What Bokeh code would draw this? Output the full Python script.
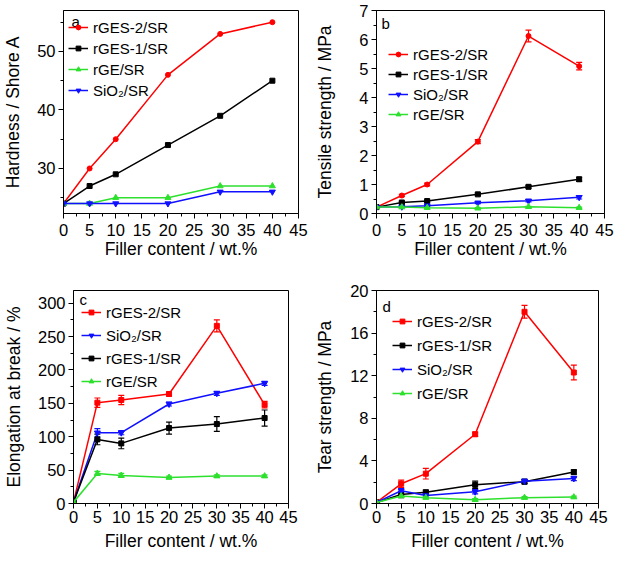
from bokeh.plotting import figure
from bokeh.layouts import column, row
from bokeh.models import (Range1d, SingleIntervalTicker, Legend, LegendItem,
                          Whisker, TeeHead, ColumnDataSource, Label)
from bokeh.embed import file_html
from bokeh.resources import INLINE

FONT = "Liberation Sans"

filler = [0, 5, 10, 20, 30, 40]

# (a) hardness
hard_rges2 = [24, 30, 35, 46, 53, 55]
hard_rges1 = [24, 27, 29, 34, 39, 45]
hard_sio2 = [24, 24, 24, 24, 26, 26]
hard_rge = [24, 24, 25, 25, 27, 27]

# (b) tensile strength
ten_rges2 = [0.22, 0.62, 1.0, 2.48, 6.12, 5.08]
ten_rges2_err = [0.02, 0.04, 0.05, 0.07, 0.2, 0.13]
ten_rges1 = [0.22, 0.38, 0.43, 0.66, 0.92, 1.18]
ten_rges1_err = [0.02, 0.03, 0.03, 0.04, 0.05, 0.07]
ten_sio2 = [0.22, 0.23, 0.27, 0.37, 0.44, 0.56]
ten_sio2_err = [0.02, 0.02, 0.03, 0.03, 0.04, 0.06]
ten_rge = [0.22, 0.22, 0.2, 0.18, 0.23, 0.2]
ten_rge_err = [0.02, 0.02, 0.02, 0.02, 0.02, 0.02]

# (c) elongation at break
elo_rges2 = [2, 151, 155, 164, 266, 148]
elo_rges2_err = [0, 7, 7, 3, 9, 5]
elo_sio2 = [2, 106, 106, 149, 165, 180]
elo_sio2_err = [0, 6, 3, 3, 3, 3]
elo_rges1 = [2, 96, 90, 113, 119, 128]
elo_rges1_err = [0, 8, 8, 9, 11, 12]
elo_rge = [2, 45, 42, 39, 41, 41]
elo_rge_err = [0, 3, 3, 2, 2, 2]

# (d) tear strength
tear_rges2 = [0.1, 1.85, 2.8, 6.5, 18.0, 12.3]
tear_rges2_err = [0, 0.35, 0.5, 0.2, 0.6, 0.7]
tear_rges1 = [0.1, 0.85, 1.05, 1.75, 2.05, 2.95]
tear_rges1_err = [0, 0.3, 0.2, 0.35, 0.2, 0.2]
tear_sio2 = [0.1, 1.2, 0.75, 1.1, 2.1, 2.35]
tear_sio2_err = [0, 0.2, 0.15, 0.2, 0.2, 0.2]
tear_rge = [0.1, 0.7, 0.55, 0.35, 0.55, 0.6]
tear_rge_err = [0, 0.1, 0.1, 0.1, 0.1, 0.1]

COL = {"rGES-2/SR": "#ff0000", "rGES-1/SR": "#000000",
       "SiO₂/SR": "#1010ff", "rGE/SR": "#2ee02e"}
MARK = {"rGES-1/SR": "square", "SiO₂/SR": "inverted_triangle", "rGE/SR": "triangle"}


def panel(w, h, bl, br, bt, bb, yr, yint, ylabel, ystand, xls, xas,
          letter, letter_off, series, red_marker, leg_x, leg_first, leg_step):
    p = figure(width=w, height=h, x_range=Range1d(0, 45), y_range=Range1d(*yr),
               output_backend="svg", toolbar_location=None,
               min_border_left=bl, min_border_right=br,
               min_border_top=bt, min_border_bottom=bb,
               background_fill_color="white", border_fill_color="white")
    p.xaxis.ticker = SingleIntervalTicker(interval=5, num_minor_ticks=2)
    p.yaxis.ticker = SingleIntervalTicker(interval=yint, num_minor_ticks=2)
    p.grid.visible = False
    p.outline_line_color = "black"
    p.outline_line_alpha = 1
    p.outline_line_width = 1
    for ax in p.axis:
        ax.axis_line_color = "black"
        ax.major_tick_line_color = "black"
        ax.minor_tick_line_color = "black"
        ax.major_tick_in = 0
        ax.major_tick_out = 5
        ax.minor_tick_in = 0
        ax.minor_tick_out = 3
        ax.major_label_text_font = FONT
        ax.major_label_text_font_size = "16.5px"
        ax.major_label_text_color = "black"
        ax.axis_label_text_font = FONT
        ax.axis_label_text_font_size = "17.5px"
        ax.axis_label_text_font_style = "normal"
        ax.axis_label_text_color = "black"
    p.xaxis.axis_label = "Filler content / wt.%"
    p.xaxis.major_label_standoff = xls
    p.xaxis.axis_label_standoff = xas
    p.yaxis.axis_label = ylabel
    p.yaxis.major_label_standoff = 3
    p.yaxis.axis_label_standoff = ystand

    items = []
    for name, vals, errs in series:
        c = COL[name]
        mk = red_marker if name == "rGES-2/SR" else MARK[name]
        src = ColumnDataSource(dict(x=filler, y=vals))
        ln = p.line("x", "y", source=src, line_color=c, line_width=1.5)
        sz = 6 if "triangle" in mk else 5
        sc = p.scatter("x", "y", source=src, marker=mk, size=sz,
                       fill_color=c, line_color=c)
        if errs is not None:
            esrc = ColumnDataSource(dict(
                x=filler,
                lo=[v - e for v, e in zip(vals, errs)],
                hi=[v + e for v, e in zip(vals, errs)]))
            p.add_layout(Whisker(source=esrc, base="x", lower="lo", upper="hi",
                                 line_color=c, line_width=1.2,
                                 upper_head=TeeHead(size=6, line_color=c, line_width=1.2),
                                 lower_head=TeeHead(size=6, line_color=c, line_width=1.2)))
        items.append(LegendItem(label=name, renderers=[ln, sc]))

    frame_h = h - bt - bb
    item_h = 18
    n = len(items)
    sp = int(round(leg_step - item_h))
    box_h = n * item_h + (n - 1) * sp
    top = leg_first - item_h / 2
    leg = Legend(items=items, location=(int(leg_x), int(round(frame_h - top - box_h))),
                 padding=0, margin=0, spacing=sp,
                 label_height=item_h, glyph_height=12, glyph_width=20,
                 label_standoff=5, label_text_font=FONT,
                 label_text_font_size="15px", label_text_color="black",
                 background_fill_alpha=0, border_line_alpha=0)
    p.add_layout(leg, "center")

    frame_w = w - bl - br
    y0, y1 = yr
    lx = letter_off[0] / frame_w * 45
    ly = y1 - letter_off[1] / frame_h * (y1 - y0)
    p.add_layout(Label(x=lx, y=ly, text=letter, text_font=FONT,
                       text_font_size="15px", text_baseline="middle",
                       text_align="left", text_color="black"))
    return p


pa = panel(312, 280, 60, 14, 1, 67, (22.3, 57.0), 10, "Hardness / Shore A", 11, 5, 0,
           "a", (8, 12),
           [("rGES-2/SR", hard_rges2, None), ("rGES-1/SR", hard_rges1, None),
            ("rGE/SR", hard_rge, None), ("SiO₂/SR", hard_sio2, None)],
           "circle", 5, 26, 21)

pb = panel(302, 280, 61, 10, 10, 67, (0, 7), 1, "Tensile strength / MPa", 21, 5, 0,
           "b", (5, 13),
           [("rGES-2/SR", ten_rges2, ten_rges2_err), ("rGES-1/SR", ten_rges1, ten_rges1_err),
            ("SiO₂/SR", ten_sio2, ten_sio2_err), ("rGE/SR", ten_rge, ten_rge_err)],
           "circle", 12, 44, 20)

pc = panel(312, 275, 70, 24, 10, 52, (0, 319), 50, "Elongation at break / %", 11, 2, 5,
           "c", (6, 9),
           [("rGES-2/SR", elo_rges2, elo_rges2_err), ("SiO₂/SR", elo_sio2, elo_sio2_err),
            ("rGES-1/SR", elo_rges1, elo_rges1_err), ("rGE/SR", elo_rge, elo_rge_err)],
           "square", 8, 22, 23)

pd = panel(302, 275, 60, 16, 7, 52, (0, 20), 4, "Tear strength / MPa", 12, 2, 5,
           "d", (6, 16),
           [("rGES-2/SR", tear_rges2, tear_rges2_err), ("rGES-1/SR", tear_rges1, tear_rges1_err),
            ("SiO₂/SR", tear_sio2, tear_sio2_err), ("rGE/SR", tear_rge, tear_rge_err)],
           "square", 16, 34, 24)

layout = column(row(pa, pb), row(pc, pd))
open("out.html", "w").write(file_html(layout, INLINE))
